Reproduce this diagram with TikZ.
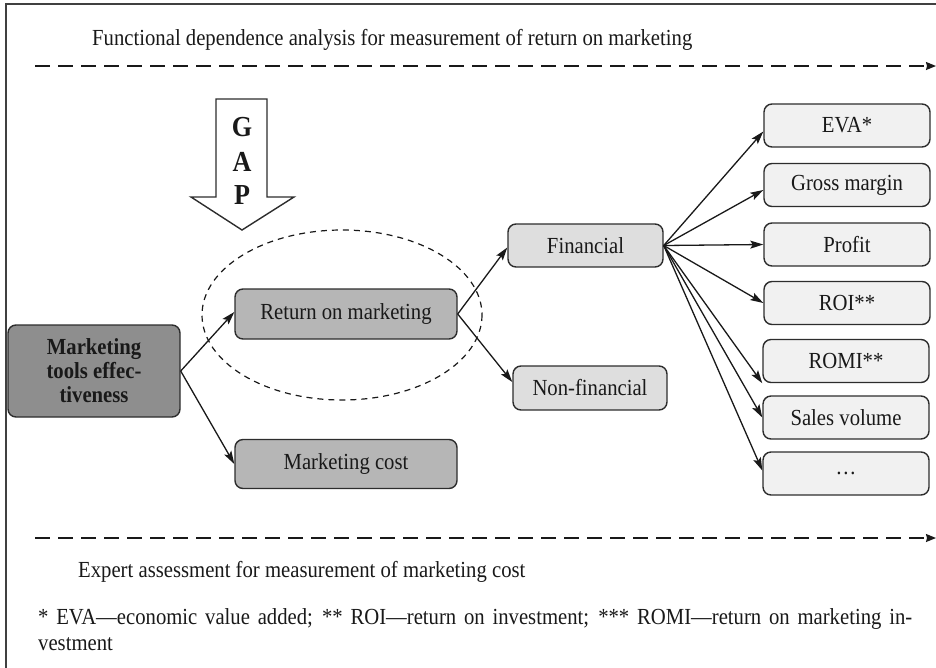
\documentclass[tikz,border=0pt]{standalone}
\usepackage{fontspec}
\setmainfont{Liberation Serif}[FakeStretch=0.9]
\usetikzlibrary{arrows.meta,shapes.geometric}
\definecolor{gdark}{RGB}{142,142,142}
\definecolor{gmid}{RGB}{182,182,182}
\definecolor{glight}{RGB}{222,222,222}
\definecolor{gpale}{RGB}{241,241,241}
\definecolor{edge}{RGB}{45,45,45}
\definecolor{ink}{RGB}{25,25,25}
\tikzset{
  every node/.style={font=\fontsize{23}{24}\selectfont, text=ink},
  box/.style={draw=edge, line width=1.4pt, rounded corners=8pt, align=center, inner sep=0pt},
  boxdark/.style={box, fill=gdark},
  boxmid/.style={box, fill=gmid},
  boxlight/.style={box, fill=glight},
  boxpale/.style={box, fill=gpale, minimum width=166pt, minimum height=43pt},
  conn/.style={draw=ink, line width=1.3pt, -{Stealth[length=13pt,width=8pt,inset=2.5pt]}},
  dashline/.style={draw=ink, line width=1.4pt, dash pattern=on 15pt off 8pt, -{Stealth[length=10pt,width=8pt,inset=1pt]}},
  frame/.style={draw=black!75, line width=2pt},
  gapletter/.style={font=\fontsize{29}{29}\selectfont\bfseries, text=ink}
}
\begin{document}
\begin{tikzpicture}[x=1pt,y=-1pt]
\useasboundingbox (0,0) rectangle (936,667);
% frame
\draw[frame] (6,670) -- (6,4) -- (940,4);

% top/bottom dashed arrows
\coordinate (t1) at (35,66);
\coordinate (t2) at (936,66);
\coordinate (b1) at (35,538);
\coordinate (b2) at (936,538);
\draw[dashline] (t1) -- (t2);
\draw[dashline] (b1) -- (b2);
\node[anchor=base west, inner sep=0pt] (toptext) at (92,45) {Functional dependence analysis for measurement of return on marketing};
\node[anchor=base west, inner sep=0pt] (bottext) at (78,577) {Expert assessment for measurement of marketing cost};

% footnote
\node[anchor=base west, inner sep=0pt] (fn1) at (38,624) {\makebox[874pt][s]{* EVA---economic value added; ** ROI---return on investment; *** ROMI---return on marketing in-}};
\node[anchor=base west, inner sep=0pt] (fn2) at (38,650) {vestment};

% GAP arrow
\draw[edge, line width=1.4pt, fill=white] (216,99) -- (267,99) -- (267,197) -- (294,197) -- (242,230) -- (191,197) -- (216,197) -- cycle;
\node[gapletter] (gG) at (242,127) {G};
\node[gapletter] (gA) at (242,162) {A};
\node[gapletter] (gP) at (242,195) {P};

% ellipse
\draw[ink, line width=1.2pt, dash pattern=on 6pt off 5pt] (342,315) ellipse [x radius=140, y radius=85];

% nodes
\node[boxdark, minimum width=172pt, minimum height=92pt, font=\fontsize{23}{24}\selectfont\bfseries] (mte) at (94,371) {Marketing\\tools effec-\\tiveness};
\node[boxmid, minimum width=222pt, minimum height=50pt] (rom) at (346,314) {Return on marketing};
\node[boxmid, minimum width=222pt, minimum height=49pt] (cost) at (346,464) {Marketing cost};
\node[boxlight, minimum width=155pt, minimum height=43pt] (fin) at (585.5,245.5) {Financial};
\node[boxlight, minimum width=154pt, minimum height=44pt] (nonfin) at (590,388) {Non-financial};

\node[boxpale] (eva) at (847,125.5) {EVA*};
\node[boxpale] (gm) at (847,185) {Gross margin};
\node[boxpale] (profit) at (847,244.5) {Profit};
\node[boxpale] (roi) at (847,303) {ROI**};
\node[boxpale] (romi) at (846,361) {ROMI**};
\node[boxpale] (sv) at (846,417.5) {Sales volume};
\node[boxpale] (dots) at (846,473.5) {\dots};

% connectors
\draw[conn] (mte.east) -- ([yshift=2pt]rom.west);
\draw[conn] (mte.east) -- (cost.west);
\draw[conn] (rom.east) -- ([yshift=-2pt]fin.west);
\draw[conn] (rom.east) -- ([yshift=6pt]nonfin.west);
\draw[conn] (fin.east) -- ([yshift=-6pt]eva.west);
\draw[conn] (fin.east) -- ([yshift=-5pt]gm.west);
\draw[conn] (fin.east) -- (profit.west);
\draw[conn] (fin.east) -- (roi.west);
\draw[conn] (fin.east) -- (romi.south west);
\draw[conn] (fin.east) -- (sv.west);
\draw[conn] (fin.east) -- ([yshift=3pt]dots.west);
\end{tikzpicture}
\end{document}
